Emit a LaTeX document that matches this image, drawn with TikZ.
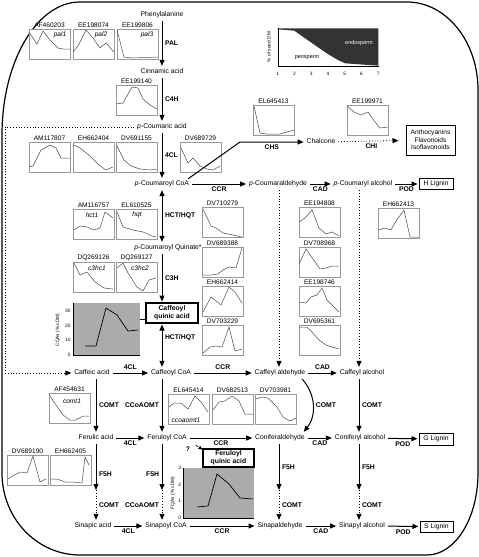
\documentclass[tikz,border=0pt]{standalone}
\usepackage{fontspec}
\setmainfont{Liberation Sans}
\usetikzlibrary{arrows.meta}

\begin{document}
\begin{tikzpicture}[x=1pt,y=-1pt,
    every node/.style={font=\fontsize{6.8}{7.6}\selectfont,inner sep=1.5pt,outer sep=1.5pt},
    cpd/.style={text height=5pt,text depth=1.3pt},
    enz/.style={font=\fontsize{6.8}{7.6}\selectfont\bfseries},
    flow/.style={line width=1pt,-{Triangle[length=6pt,width=5pt]}},
    both/.style={line width=1pt,{Triangle[length=6pt,width=5pt]}-{Triangle[length=6pt,width=5pt]}},
    weak/.style={line width=0.8pt,dotted,-{Triangle[length=6pt,width=5pt]}},
    chart/.style={draw=black!40,line width=0.5pt,fill=white,minimum width=41pt,minimum height=30pt,inner sep=0pt,outer sep=0pt,anchor=north west},
    genelbl/.style={font=\fontsize{6.6}{7}\selectfont,inner sep=0.5pt,outer sep=0.5pt},
    genetag/.style={font=\fontsize{6.6}{7}\selectfont\itshape,inner sep=0pt},
    trace/.style={black!70,line width=0.5pt},
    endbox/.style={draw,line width=0.9pt,inner sep=1pt,align=center},
    ticklbl/.style={font=\fontsize{4.8}{5.5}\selectfont,inner sep=0.5pt,outer sep=0pt},
    border/.style={line width=1.2pt}]
  \useasboundingbox (0,0) rectangle (479,557);

  % outer frame
  \draw[border] (2,135) .. controls (2,61.5) and (36.9,2) .. (80,2) -- (407,2)
    .. controls (446.2,2) and (478,41.4) .. (478,90) -- (478,473)
    .. controls (478,518.3) and (455.2,555) .. (427,555) -- (80,555)
    .. controls (36.9,555) and (2,518.3) .. (2,473) -- cycle;

  % seed DM inset
  \fill[black!80] (277.7,28.3) -- (277.7,29.3) -- (294.3,30.7) -- (310,41.7) -- (326.7,53.3)
    -- (336.7,59.3) -- (345,63.3) -- (378.3,65.7) -- (378.3,28.3) -- cycle;
  \draw[line width=0.4pt] (277.7,28.3) -- (277.7,65.7) -- (378.3,65.7);
  \foreach \k in {1,...,7} {
    \draw[line width=0.4pt] ({277.7+16.77*(\k-1)},65.7) -- ++(0,1.5);
    \node[ticklbl] at ({277.7+16.77*(\k-1)},73.5) {\k};
  }
  \node[ticklbl,rotate=90] at (269,47) {\% of seed DM};
  \node[ticklbl,font=\fontsize{5.5}{6}\selectfont,text=white] at (359,43) {endosperm};
  \node[ticklbl,font=\fontsize{5.5}{6}\selectfont] at (307,57) {perisperm};

  % expression profiles
  \node[chart,label={[genelbl]above:AF460203}] (af460203) at (29,29) {};
  \draw[trace,shift={(af460203.north west)}] (0,3) -- (8,15) -- (14,2) -- (21,11) -- (29,19) -- (34,20) -- (41,20);
  \node[genetag] at ([shift={(31,6)}]af460203.north west) {pal1};
  \node[chart,label={[genelbl]above:EE198074}] (ee198074) at (73,29) {};
  \draw[trace,shift={(ee198074.north west)}] (0,23) -- (5,17) -- (13,1) -- (20,9) -- (27,19) -- (33,14) -- (41,23);
  \node[genetag] at ([shift={(28,6)}]ee198074.north west) {pal2};
  \node[chart,label={[genelbl]above:EE199806}] (ee199806) at (117,29) {};
  \draw[trace,shift={(ee199806.north west)}] (0,1) -- (7,28) -- (15,29) -- (41,28);
  \node[genetag] at ([shift={(30,6)}]ee199806.north west) {pal3};
  \node[chart,label={[genelbl]above:EE199140}] (ee199140) at (116,85) {};
  \draw[trace,shift={(ee199140.north west)}] (0,19) -- (7,18) -- (16,2) -- (22,3) -- (27,14) -- (34,20) -- (41,24);
  \node[chart,label={[genelbl]above:EL645413}] (el645413) at (253,105) {};
  \draw[trace,shift={(el645413.north west)}] (1,1) -- (7,28) -- (13,29) -- (27,29) -- (41,25);
  \node[chart,label={[genelbl]above:EE199971}] (ee199971) at (347,105) {};
  \draw[trace,shift={(ee199971.north west)}] (0,1) -- (7,7) -- (14,10) -- (21,7) -- (28,17) -- (33,23) -- (41,22);

  \node[chart,label={[genelbl]above:AM117807}] (am117807) at (29,142) {};
  \draw[trace,shift={(am117807.north west)}] (0,25) -- (4,24) -- (12,8) -- (21,3) -- (27,6) -- (32,16) -- (41,16);
  \node[chart,label={[genelbl]above:EH662404}] (eh662404) at (73,142) {};
  \draw[trace,shift={(eh662404.north west)}] (1,3) -- (7,6) -- (17,14) -- (26,23) -- (33,28) -- (40,25);
  \node[chart,label={[genelbl]above:DV691155}] (dv691155) at (116,142) {};
  \draw[trace,shift={(dv691155.north west)}] (1,4) -- (8,18) -- (15,24) -- (24,27) -- (34,28) -- (41,27);
  \node[chart,label={[genelbl]above:DV689729}] (dv689729) at (180,142) {};
  \draw[trace,shift={(dv689729.north west)}] (1,6) -- (8,21) -- (13,16) -- (20,24) -- (27,27) -- (33,28) -- (40,24);

  \node[chart,label={[genelbl]above:AM116757}] (am116757) at (73,209) {};
  \draw[trace,shift={(am116757.north west)}] (1,21) -- (7,17) -- (14,18) -- (21,21) -- (27,19) -- (32,3) -- (40,9);
  \node[genetag] at ([shift={(19,6)}]am116757.north west) {hct1};
  \node[chart,label={[genelbl]above:EL610525}] (el610525) at (116,209) {};
  \draw[trace,shift={(el610525.north west)}] (1,3) -- (7,18) -- (17,21) -- (27,23) -- (36,27) -- (40,28);
  \node[genetag] at ([shift={(21,6)}]el610525.north west) {hqt};
  \node[chart,label={[genelbl]above:DQ269126}] (dq269126) at (73,262) {};
  \draw[trace,shift={(dq269126.north west)}] (1,1) -- (7,13) -- (14,10) -- (22,20) -- (31,26) -- (40,27);
  \node[genetag] at ([shift={(24,6)}]dq269126.north west) {c3hc1};
  \node[chart,label={[genelbl]above:DQ269127}] (dq269127) at (116,262) {};
  \draw[trace,shift={(dq269127.north west)}] (1,6) -- (7,1) -- (12,11) -- (21,25) -- (27,29) -- (33,18) -- (40,16);
  \node[genetag] at ([shift={(24,6)}]dq269127.north west) {c3hc2};

  \node[chart,label={[genelbl]above:DV710279}] (dv710279) at (202,207) {};
  \draw[trace,shift={(dv710279.north west)}] (1,2) -- (9,19) -- (14,21) -- (21,26) -- (31,28) -- (40,30);
  \node[chart,label={[genelbl]above:DV689388}] (dv689388) at (202,247) {};
  \draw[trace,shift={(dv689388.north west)}] (1,28) -- (9,28) -- (16,27) -- (21,23) -- (27,20) -- (34,21) -- (40,1);
  \node[chart,label={[genelbl]above:EH662414}] (eh662414) at (202,286) {};
  \draw[trace,shift={(eh662414.north west)}] (1,26) -- (9,11) -- (19,19) -- (27,1) -- (33,6) -- (40,17);
  \node[chart,label={[genelbl]above:DV703229}] (dv703229) at (202,325) {};
  \draw[trace,shift={(dv703229.north west)}] (1,28) -- (8,22) -- (14,21) -- (20,22) -- (27,2) -- (33,26) -- (40,24);

  \node[chart,label={[genelbl]above:EE194808}] (ee194808) at (299,207) {};
  \draw[trace,shift={(ee194808.north west)}] (0,15) -- (6,11) -- (13,3) -- (20,21) -- (27,27) -- (33,25) -- (40,29);
  \node[chart,label={[genelbl]above:DV708968}] (dv708968) at (299,247) {};
  \draw[trace,shift={(dv708968.north west)}] (0,17) -- (7,2) -- (14,12) -- (21,22) -- (27,21) -- (33,19) -- (40,19);
  \node[chart,label={[genelbl]above:EE198746}] (ee198746) at (299,286) {};
  \draw[trace,shift={(ee198746.north west)}] (0,16) -- (7,17) -- (12,11) -- (18,9) -- (23,2) -- (28,14) -- (40,26);
  \node[chart,label={[genelbl]above:DV695361}] (dv695361) at (299,325) {};
  \draw[trace,shift={(dv695361.north west)}] (0,2) -- (8,2) -- (13,7) -- (20,15) -- (27,20) -- (33,22) -- (40,24);
  \node[chart,label={[genelbl]above:EH662413}] (eh662413) at (378,208) {};
  \draw[trace,shift={(eh662413.north west)}] (1,22) -- (6,20) -- (13,22) -- (18,13) -- (26,2) -- (32,29) -- (41,29);

  \node[chart,label={[genelbl]above:AF454631}] (af454631) at (49,393) {};
  \draw[trace,shift={(af454631.north west)}] (1,3) -- (7,12) -- (14,22) -- (21,27) -- (27,27) -- (34,23) -- (40,23);
  \node[genetag] at ([shift={(23,8)}]af454631.north west) {comt1};
  \node[chart,label={[genelbl]above:EL645414}] (el645414) at (168,394) {};
  \draw[trace,shift={(el645414.north west)}] (1,13) -- (6,9) -- (13,9) -- (20,15) -- (27,2) -- (33,8) -- (40,18);
  \node[genetag] at ([shift={(18,26)}]el645414.north west) {ccoaomt1};
  \node[chart,label={[genelbl]above:DV682513}] (dv682513) at (212,394) {};
  \draw[trace,shift={(dv682513.north west)}] (1,16) -- (7,8) -- (13,7) -- (20,2) -- (27,7) -- (33,20) -- (41,20);
  \node[chart,label={[genelbl]above:DV703981}] (dv703981) at (255,394) {};
  \draw[trace,shift={(dv703981.north west)}] (1,5) -- (7,3) -- (13,4) -- (22,13) -- (28,23) -- (35,27) -- (41,24);
  \node[chart,label={[genelbl]above:DV689190}] (dv689190) at (7,455) {};
  \draw[trace,shift={(dv689190.north west)}] (1,24) -- (7,20) -- (14,17) -- (20,18) -- (26,1) -- (33,27) -- (39,24);
  \node[chart,label={[genelbl]above:EH662405}] (eh662405) at (50,455) {};
  \draw[trace,shift={(eh662405.north west)}] (1,24) -- (7,24) -- (15,27) -- (23,27) -- (32,28) -- (35,2) -- (39,10);

  % CQA and FQA contents
  \fill[black!33] (73,303) rectangle (140,355);
  \draw[line width=0.4pt] (73,303) -- (73,355) -- (140,355);
  \foreach \v/\yy in {0/355,10/340.3,20/325.7,30/311}
    \node[ticklbl,anchor=east] at (71,\yy) {\v};
  \node[ticklbl,rotate=90] at (58,330) {CQAs (\% cDM)};
  \draw[line width=0.7pt] plot[mark=square*,mark size=0.7pt] coordinates {(85,346) (96,346) (106,308) (117,315) (128,331) (138,330)};

  \fill[black!33] (183,468) rectangle (254,518);
  \draw[line width=0.4pt] (183,468) -- (183,518) -- (254,518);
  \foreach \v/\yy in {0/518,1/501.3,2/484.7,3/468}
    \node[ticklbl,anchor=east] at (181.5,\yy) {\v};
  \node[ticklbl,rotate=90] at (173,493) {FQAs (\% cDM)};
  \draw[line width=0.7pt] plot[mark=square*,mark size=0.7pt] coordinates {(197,507) (208,506) (217,474) (229,484) (240,498) (253,499)};

  % compounds
  \node[cpd] (phe) at (162,15) {Phenylalanine};
  \node[cpd] (cin) at (162,72) {Cinnamic acid};
  \node[cpd] (pca) at (162,127) {\textit{p}-Coumaric acid};
  \node[cpd] (pcoa) at (162,184) {\textit{p}-Coumaroyl CoA};
  \node[cpd] (quin) at (168,248) {\textit{p}-Coumaroyl Quinate*};
  \node[cpd] (chal) at (321,142) {Chalcone};
  \node[cpd] (pcald) at (278,184) {\textit{p}-Coumaraldehyde};
  \node[cpd] (pcalc) at (363,184) {\textit{p}-Coumaryl alcohol};
  \node[cpd] (cafacid) at (92,373) {Caffeic acid};
  \node[cpd] (cafcoa) at (171,373) {Caffeoyl CoA};
  \node[cpd] (cafald) at (280,373) {Caffeyl aldehyde};
  \node[cpd] (cafalc) at (362,373) {Caffeyl alcohol};
  \node[cpd] (feracid) at (96,438) {Ferulic acid};
  \node[cpd] (fercoa) at (167,438) {Feruloyl CoA};
  \node[cpd] (conald) at (280,438) {Coniferaldehyde};
  \node[cpd] (conalc) at (360,438) {Coniferyl alcohol};
  \node[cpd] (sinacid) at (93,526) {Sinapic acid};
  \node[cpd] (sincoa) at (166,526) {Sinapoyl CoA};
  \node[cpd] (sinald) at (280,526) {Sinapaldehyde};
  \node[cpd] (sinalc) at (362,526) {Sinapyl alcohol};

  \node[endbox,line width=0.8pt,minimum width=49pt,minimum height=30pt,font=\fontsize{6.6}{7.6}\selectfont] (flav) at (430.5,140) {Anthocyanins\\Flavonoids\\Isoflavonoids};
  \node[endbox,minimum width=34pt,minimum height=11pt] (hlig) at (436,184) {H Lignin};
  \node[endbox,minimum width=34pt,minimum height=12pt] (glig) at (436,439) {G Lignin};
  \node[endbox,minimum width=33pt,minimum height=11pt] (slig) at (436.5,526.5) {S Lignin};
  \node[endbox,font=\fontsize{6.8}{7.8}\selectfont\bfseries,line width=1.1pt,minimum width=52pt,minimum height=20pt] (cqabox) at (172,313) {Caffeoyl\\quinic acid};
  \node[endbox,font=\fontsize{6.8}{7.8}\selectfont\bfseries,line width=1.1pt,minimum width=51pt,minimum height=18pt] (fqabox) at (228.5,458) {Feruloyl\\quinic acid};
  \node[enz] (qmark) at (188,449) {?};

  \coordinate (chsbend) at (240,142);
  \coordinate (leftrail) at (5,250);
  \coordinate (cqaedge) at (140,319);
  \coordinate (fer5h) at (96,490);
  \coordinate (coa5h) at (162,490);
  \coordinate (ald5h) at (279,490);
  \coordinate (alc5h) at (359,490);

  % main axis
  \draw[flow] (phe) -- node[enz,right] {PAL} (cin);
  \draw[flow] (cin) -- node[enz,right] {C4H} (pca);
  \draw[flow] (pca) -- node[enz,right] {4CL} (pcoa);
  \draw[both] (pcoa) -- node[enz,right] {HCT/HQT} (quin.north -| pcoa);
  \draw[flow] (quin.south -| pcoa) -- node[enz,right] {C3H} (cqabox.north -| pcoa);
  \draw[both] (cqabox.south -| pcoa) -- node[enz,right,pos=0.3] {HCT/HQT} (cafcoa.north -| pcoa);
  \draw[line width=0.8pt] (cqaedge) -- (cqaedge -| cqabox.west);

  % flavonoid branch
  \draw[flow] ([shift={(-4,1)}]pcoa.north east) -- (chsbend) -- node[enz,below] {CHS} (chal);
  \draw[weak,shorten >=6pt] (chal) -- node[enz,below] {CHI} (flav);

  % rows
  \draw[flow] (pcoa) -- node[enz,below] {CCR} (pcald);
  \draw[flow] (pcald) -- node[enz,below] {CAD} (pcalc);
  \draw[flow] (pcalc) -- node[enz,below] {POD} (hlig);

  \draw[weak] (pca.west) -| (leftrail) |- (cafacid.west);
  \draw[flow] (cafacid) -- node[enz,above] {4CL} (cafcoa);
  \draw[flow] (cafcoa) -- node[enz,above] {CCR} (cafald);
  \draw[flow] (cafald) -- node[enz,above] {CAD} (cafalc);

  \draw[flow] (feracid) -- node[enz,below] {4CL} (fercoa);
  \draw[flow] (fercoa) -- node[enz,below] {CCR} (conald);
  \draw[flow] (conald) -- node[enz,below] {CAD} (conalc);
  \draw[flow] (conalc) -- node[enz,below] {POD} (glig);

  \draw[flow] (sinacid) -- node[enz,below] {4CL} (sincoa);
  \draw[flow] (sincoa) -- node[enz,below] {CCR} (sinald);
  \draw[flow] (sinald) -- node[enz,below] {CAD} (sinalc);
  \draw[flow] (sinalc) -- node[enz,below] {POD} (slig);

  % columns
  \draw[flow] (cafacid.south -| feracid) -- node[enz,right] {COMT} (feracid);
  \draw[flow] (feracid) -- node[enz,right,pos=0.65] {F5H} (fer5h);
  \draw[weak] (fer5h) -- node[enz,right] {COMT} (sinacid.north -| fer5h);

  \draw[flow] (cafcoa.south -| coa5h) -- node[enz,left] {CCoAOMT} (fercoa.north -| coa5h);
  \draw[flow] (fercoa.south -| coa5h) -- node[enz,left,pos=0.65] {F5H} (coa5h);
  \draw[weak] (coa5h) -- node[enz,left] {CCoAOMT} (sincoa.north -| coa5h);
  \draw[line width=0.7pt,dashed,-{Triangle[length=4pt,width=3.5pt]}] ([shift={(6,1)}]fercoa.south east) -- ([shift={(1,2)}]fqabox.north west);

  \draw[weak] (pcald.south -| ald5h) -- (cafald.north -| ald5h);
  \draw[flow] ([xshift=-6pt]cafald.south east) to[bend left=40] node[enz,right] {COMT} ([xshift=-4pt]conald.north east);
  \draw[flow] (conald.south -| ald5h) -- node[enz,right] {F5H} (ald5h);
  \draw[weak] (ald5h) -- node[enz,right] {COMT} (sinald.north -| ald5h);

  \draw[weak] (pcalc.south -| alc5h) -- (cafalc.north -| alc5h);
  \draw[flow] (cafalc.south -| alc5h) -- node[enz,right] {COMT} (conalc.north -| alc5h);
  \draw[flow] (conalc.south -| alc5h) -- node[enz,right] {F5H} (alc5h);
  \draw[weak] (alc5h) -- node[enz,right] {COMT} (sinalc.north -| alc5h);
\end{tikzpicture}
\end{document}
